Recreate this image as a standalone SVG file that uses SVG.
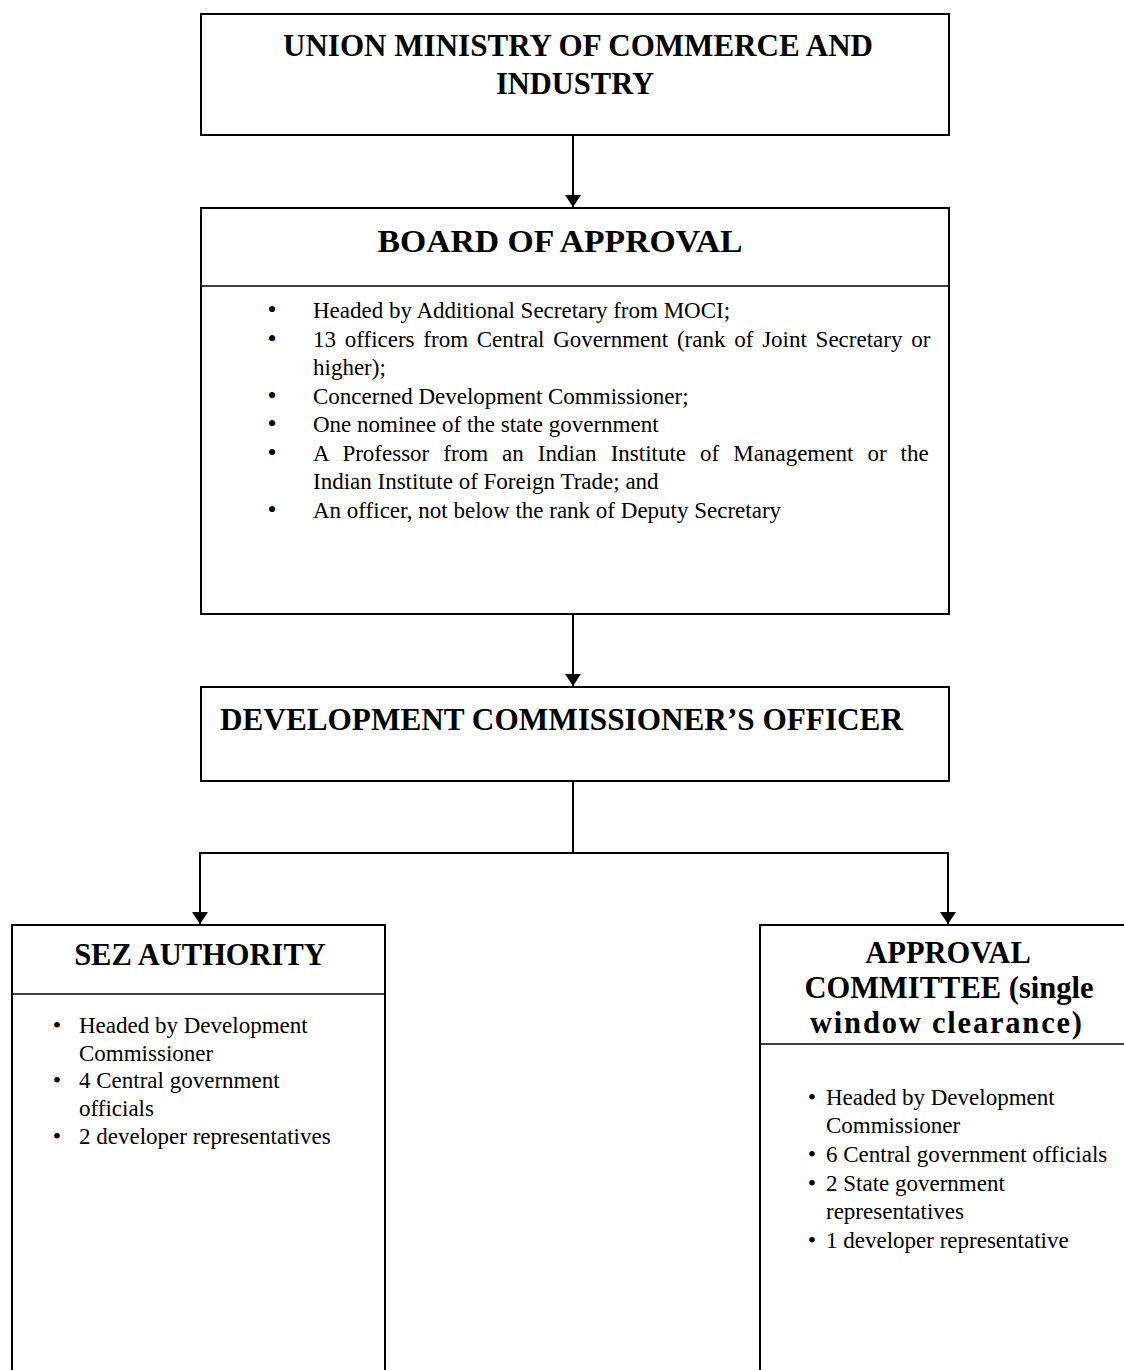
<svg xmlns="http://www.w3.org/2000/svg" width="1124" height="1370" viewBox="0 0 1124 1370">
<style>
.box{fill:#fff;stroke:#000;stroke-width:2}
.div{stroke:#000;stroke-width:1.6}
.conn{stroke:#000;stroke-width:2;fill:none}
.h{font-family:"Liberation Serif","Times New Roman",serif;font-weight:bold;font-size:30.5px;fill:#000}
.t{font-family:"Liberation Serif","Times New Roman",serif;font-size:23px;fill:#000}
.b{font-family:"Liberation Serif","Times New Roman",serif;font-size:26px;fill:#000;text-anchor:middle}
.bs{font-family:"Liberation Serif","Times New Roman",serif;font-size:24px;fill:#000;text-anchor:middle}
</style>
<defs>
<marker id="arr" markerWidth="12" markerHeight="16" refX="12" refY="8" orient="auto" markerUnits="userSpaceOnUse" viewBox="0 0 12 16">
<path d="M0,0 L12,8 L0,16 z" fill="#000"/>
</marker>
</defs>
<rect width="1124" height="1370" fill="#fff"/>

<g id="union-ministry">
<rect class="box" x="201" y="14" width="748" height="121"/>
<text class="h" x="578" y="56" text-anchor="middle" textLength="590" lengthAdjust="spacingAndGlyphs">UNION MINISTRY OF COMMERCE AND</text>
<text class="h" x="575" y="94" text-anchor="middle">INDUSTRY</text>
</g>

<g id="board-of-approval">
<rect class="box" x="201" y="208" width="748" height="406"/>
<line class="div" x1="201" y1="286" x2="949" y2="286"/>
<text class="h" x="560" y="252" text-anchor="middle" textLength="365" lengthAdjust="spacingAndGlyphs">BOARD OF APPROVAL</text>
<text class="b" x="272" y="318">•</text><text class="t" x="313" y="318">Headed by Additional Secretary from MOCI;</text>
<text class="b" x="272" y="347">•</text><text class="t" x="313" y="347" word-spacing="3">13 officers from Central Government (rank of Joint Secretary or</text>
<text class="t" x="313" y="375">higher);</text>
<text class="b" x="272" y="404">•</text><text class="t" x="313" y="404">Concerned Development Commissioner;</text>
<text class="b" x="272" y="432">•</text><text class="t" x="313" y="432">One nominee of the state government</text>
<text class="b" x="272" y="461">•</text><text class="t" x="313" y="461" word-spacing="8.3">A Professor from an Indian Institute of Management or the</text>
<text class="t" x="313" y="489">Indian Institute of Foreign Trade; and</text>
<text class="b" x="272" y="518">•</text><text class="t" x="313" y="518">An officer, not below the rank of Deputy Secretary</text>
</g>

<g id="dev-commissioner">
<rect class="box" x="201" y="687" width="748" height="94"/>
<text class="h" x="220" y="730" textLength="683" lengthAdjust="spacingAndGlyphs">DEVELOPMENT COMMISSIONER’S OFFICER</text>
</g>

<g id="sez-authority">
<rect class="box" x="12" y="925" width="373" height="460"/>
<line class="div" x1="12" y1="994" x2="385" y2="994"/>
<text class="h" x="200" y="965" text-anchor="middle">SEZ AUTHORITY</text>
<text class="bs" x="57" y="1033">•</text><text class="t" x="79" y="1033">Headed by Development</text>
<text class="t" x="79" y="1061">Commissioner</text>
<text class="bs" x="57" y="1088">•</text><text class="t" x="79" y="1088">4 Central government</text>
<text class="t" x="79" y="1116">officials</text>
<text class="bs" x="57" y="1144">•</text><text class="t" x="79" y="1144">2 developer representatives</text>
</g>

<g id="approval-committee">
<rect class="box" x="760" y="925" width="380" height="460"/>
<line class="div" x1="760" y1="1044" x2="1124" y2="1044"/>
<text class="h" x="948" y="963" text-anchor="middle">APPROVAL</text>
<text class="h" x="949" y="998" text-anchor="middle">COMMITTEE (single</text>
<text class="h" x="946" y="1033" text-anchor="middle" textLength="272" lengthAdjust="spacing">window clearance)</text>
<text class="bs" x="812" y="1105">•</text><text class="t" x="826" y="1105">Headed by Development</text>
<text class="t" x="826" y="1133">Commissioner</text>
<text class="bs" x="812" y="1162">•</text><text class="t" x="826" y="1162">6 Central government officials</text>
<text class="bs" x="812" y="1191">•</text><text class="t" x="826" y="1191">2 State government</text>
<text class="t" x="826" y="1219">representatives</text>
<text class="bs" x="812" y="1248">•</text><text class="t" x="826" y="1248">1 developer representative</text>
</g>

<g id="connectors">
<line class="conn" x1="573" y1="135" x2="573" y2="207" marker-end="url(#arr)"/>
<line class="conn" x1="573" y1="614" x2="573" y2="686" marker-end="url(#arr)"/>
<line class="conn" x1="573" y1="781" x2="573" y2="853"/>
<line class="conn" x1="199" y1="853" x2="949" y2="853"/>
<line class="conn" x1="200" y1="853" x2="200" y2="924" marker-end="url(#arr)"/>
<line class="conn" x1="948" y1="853" x2="948" y2="924" marker-end="url(#arr)"/>
</g>
</svg>
